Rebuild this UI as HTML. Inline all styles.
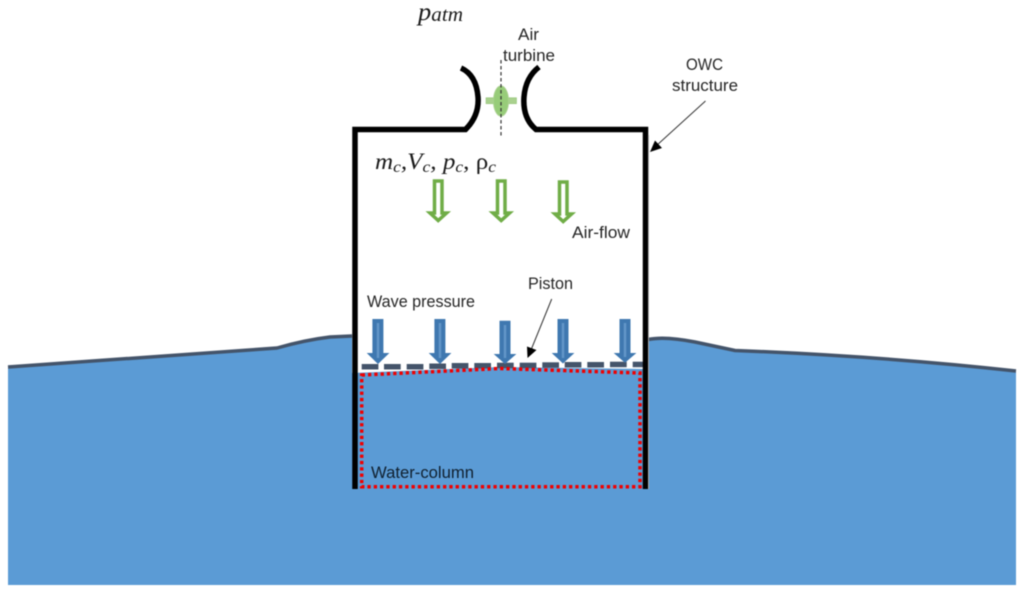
<!DOCTYPE html>
<html>
<head>
<meta charset="utf-8">
<style>
html,body{margin:0;padding:0;background:#fff;width:1024px;height:594px;overflow:hidden}
svg{display:block;filter:blur(.4px)}
.t{font-family:"Liberation Sans",sans-serif;font-size:16.5px;fill:#262626}
.m{font-family:"Liberation Serif",serif;font-style:italic;fill:#1a1a1a}
</style>
</head>
<body>
<svg width="1024" height="594" viewBox="0 0 1024 594" xmlns="http://www.w3.org/2000/svg">
<path d="M8 366 L277 347 Q305 339 330 336 L352 335 V373 L500 367 L644 369 V339 Q665 336 695 342 L735 350 Q880 356 1016 370 V585 H8 Z" fill="#5b9bd5"/>
<path d="M8 367 L277 348 Q305 340 330 337 L352 336" fill="none" stroke="#44546a" stroke-width="3.500"/>
<path d="M648 339.500 Q665 336 695 342 L735 350.500 Q880 356 1016 371" fill="none" stroke="#44546a" stroke-width="3.500"/>

<g fill="#44546a">
<rect x="361.700" y="364" width="16.700" height="5.500"/>
<rect x="384" y="364" width="16.700" height="5.500"/>
<rect x="406.700" y="364" width="16.700" height="5.500"/>
<rect x="429.300" y="363.500" width="16.700" height="5.500"/>
<rect x="451.700" y="363" width="16.700" height="5.500"/>
<rect x="474.300" y="363" width="16.700" height="5.500"/>
<rect x="497" y="362.700" width="16.700" height="5.500"/>
<rect x="519.700" y="362.700" width="16.700" height="5.500"/>
<rect x="542.300" y="362.300" width="16.700" height="5.500"/>
<rect x="564.700" y="362" width="16.700" height="5.500"/>
<rect x="587.300" y="362" width="16.700" height="5.500"/>
<rect x="610" y="361.700" width="16.700" height="5.500"/>
<rect x="632.700" y="361.700" width="11.300" height="5.500"/>
</g>

<g fill="#3f78b0">
<path d="M372.400 319 H383.400 V353 H389.400 L378 364 L366.700 353 H372.400 Z"/>
<path d="M434.400 319 H445.400 V353 H451.400 L440 364 L428.700 353 H434.400 Z"/>
<path d="M499.500 320.700 H510.500 V354 H516.400 L505 364 L493.700 354 H499.500 Z"/>
<path d="M557.500 319 H568.500 V353 H574.400 L563 363.500 L551.700 353 H557.500 Z"/>
<path d="M619.500 319 H630.500 V353 H636.400 L625 362.700 L613.700 353 H619.500 Z"/>
</g>
<g stroke="#7fb0dc" stroke-width="2.500" opacity=".55">
<path d="M378 323 V358"/><path d="M440 323 V358"/><path d="M505 325 V358"/><path d="M563 323 V358"/><path d="M625 323 V357"/>
</g>

<path d="M361.700 375 L500 368.500 L640 373 V486.700 H361.700 Z" fill="none" stroke="#f00000" stroke-width="3.500" stroke-dasharray="3.300 3"/>

<path d="M355 489 V129.500 H465.500 C474 121 479 110 478 97 C477 84 472 73 461 68" fill="none" stroke="#000" stroke-width="5.500"/>
<path d="M645.500 489 V129.500 H536 C527 122 523 111 524 97 C525 84 530 74 539 67" fill="none" stroke="#000" stroke-width="5.500"/>
<path d="M648.500 135 V489" stroke="#aaa" stroke-width="1"/>

<rect x="486" y="97.700" width="30.500" height="6" fill="#a9d18e" stroke="#8cc06e" stroke-width=".5"/>
<ellipse cx="501" cy="101" rx="7.500" ry="15" fill="#97cc79" stroke="#a9d18e" stroke-width="1"/>
<path d="M501 60 V137" stroke="#333" stroke-width="1.200" stroke-dasharray="3.500 2.500"/>

<g fill="#fff" stroke="#70ad47" stroke-width="3.500" stroke-linejoin="miter">
<path d="M434.500 181 H442 V213 H446.500 L438.200 220.500 L430 213 H434.500 Z"/>
<path d="M497.500 181 H505 V213 H509.500 L501.200 220.500 L493 213 H497.500 Z"/>
<path d="M559.500 182 H567 V214 H571.500 L563.200 221.500 L555 214 H559.500 Z"/>
</g>

<path d="M705.500 101 L656 146" stroke="#333" stroke-width="1"/>
<path d="M650 152 L655 140.500 L662 148 Z" fill="#000"/>
<path d="M551.700 299 L531 350" stroke="#333" stroke-width="1"/>
<path d="M527.500 358 L527 346.500 L536.500 350 Z" fill="#000"/>

<text class="t" x="518" y="40" textLength="21" lengthAdjust="spacingAndGlyphs">Air</text>
<text class="t" x="503" y="61" textLength="52" lengthAdjust="spacingAndGlyphs">turbine</text>
<text class="t" x="686" y="70" textLength="37" lengthAdjust="spacingAndGlyphs">OWC</text>
<text class="t" x="672" y="91" textLength="66" lengthAdjust="spacingAndGlyphs">structure</text>
<text class="t" x="572" y="238" textLength="58" lengthAdjust="spacingAndGlyphs">Air-flow</text>
<text class="t" x="528" y="289" textLength="45" lengthAdjust="spacingAndGlyphs">Piston</text>
<text class="t" x="367" y="307" textLength="108" lengthAdjust="spacingAndGlyphs">Wave pressure</text>
<text class="t" x="371" y="478" textLength="103" lengthAdjust="spacingAndGlyphs" style="fill:#10202f">Water-column</text>

<text class="m" x="418" y="20" font-size="25" textLength="45" lengthAdjust="spacingAndGlyphs">p<tspan font-size="20" dy="1">atm</tspan></text>
<text class="m" x="375" y="169" font-size="23" textLength="121" lengthAdjust="spacingAndGlyphs">m<tspan font-size="16" dy="3">c</tspan><tspan dy="-3">,V</tspan><tspan font-size="16" dy="3">c</tspan><tspan dy="-3">, p</tspan><tspan font-size="16" dy="3">c</tspan><tspan dy="-3" style="font-style:normal">, ρ</tspan><tspan font-size="16" dy="3">c</tspan></text>
</svg>
</body>
</html>
